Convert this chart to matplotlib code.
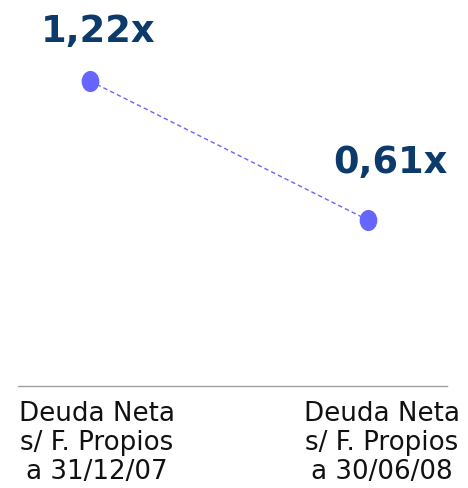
import matplotlib
matplotlib.use("Agg")
import matplotlib.pyplot as plt
from matplotlib.path import Path
import numpy as np

# data
categories = ["Deuda Neta\ns/ F. Propios\na 31/12/07",
              "Deuda Neta\ns/ F. Propios\na 30/06/08"]
values = [1.22, 0.61]
value_labels = ["1,22x", "0,61x"]

# layout / style
label_offsets = [(6, 36.5), (16, 42.5)]   # points
cat_offsets = [5, 10]                     # points
point_color = "#6666FF"
label_color = "#0B3A6B"

fig = plt.figure(figsize=(4.68, 4.89), dpi=100)
ax = fig.add_axes([18/468, (489-387)/489, (447-18)/468, 387/489])

x = np.arange(len(values))
circ = Path.unit_circle()
ell = Path(circ.vertices * np.array([1.0, 1.21]), circ.codes)

ax.plot(x, values, linestyle=(0, (3.2, 2.2)), color=point_color, linewidth=1.0, zorder=2)
ax.plot(x, values, linestyle="none", marker=ell, markersize=14.2,
        markerfacecolor=point_color, markeredgecolor=point_color, zorder=3)

for xi, v, lab, off in zip(x, values, value_labels, label_offsets):
    ax.annotate(lab, (xi, v), xytext=off, textcoords="offset points",
                ha="center", va="center", fontsize=26.5, fontweight="bold",
                color=label_color, family="DejaVu Sans")

ax.set_xlim(-0.259, 1.284)
ax.set_ylim(-0.118, 1.58)

for s in ["top", "right", "left"]:
    ax.spines[s].set_visible(False)
ax.spines["bottom"].set_color("#A0A0A0")
ax.spines["bottom"].set_linewidth(1.0)
ax.set_yticks([])
ax.set_xticks([])

for xi, cat, off in zip(x, categories, cat_offsets):
    ax.annotate(cat, (xi, 0), xycoords=("data", "axes fraction"),
                xytext=(off, -10), textcoords="offset points",
                ha="center", va="top", fontsize=18.8, color="#111111",
                linespacing=1.15, family="DejaVu Sans")

fig.savefig("out.png", dpi=100)
